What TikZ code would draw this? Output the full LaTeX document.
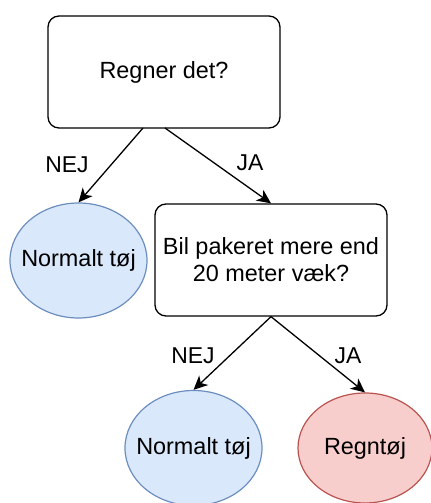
\documentclass[tikz,border=0pt]{standalone}
\usepackage{fontspec}
\setmainfont{Liberation Sans}
\usetikzlibrary{arrows.meta,shapes.geometric}
\definecolor{blueFill}{HTML}{DAE8FC}
\definecolor{blueLine}{HTML}{6C8EBF}
\definecolor{redFill}{HTML}{F8CECC}
\definecolor{redLine}{HTML}{B85450}
\newcommand{\flatbox}[1]{\makebox[0pt]{#1}}
\tikzset{
  question/.style={draw,rounded corners=11bp,line width=1.3bp,minimum width=232bp,minimum height=112bp,align=center,font=\fontsize{23.5}{27}\selectfont},
  answerblue/.style={ellipse,draw=blueLine,fill=blueFill,line width=1.2bp,minimum width=137bp,minimum height=115bp,inner sep=0pt,font=\fontsize{23.5}{27}\selectfont},
  answerred/.style={ellipse,draw=redLine,fill=redFill,line width=1.2bp,minimum width=134bp,minimum height=110bp,inner sep=0pt,font=\fontsize{23.5}{27}\selectfont},
  edgelabel/.style={font=\fontsize{23}{27}\selectfont},
}
\begin{document}
\begin{tikzpicture}[>={Stealth[length=14bp,width=13bp,inset=4bp]},line join=bevel,]
\useasboundingbox (0bp,0bp) rectangle (431bp,503bp);
%%
\node (node_0) at (164bp,431bp) [question] {Regner det?};
  \node (node_1) at (78.5bp,242.5bp) [answerblue] {\flatbox{Normalt tøj}};
  \node (node_2) at (271bp,243bp) [question] {Bil pakeret mere end\\20 meter væk?};
  \node (node_3) at (193.5bp,55bp) [answerblue] {\flatbox{Normalt tøj}};
  \node (node_4) at (365bp,55bp) [answerred] {\flatbox{Regntøj}};
  \draw [black,line width=1.3bp,->] (143bp,375bp) -- (node_1.north);
  \draw [black,line width=1.3bp,->] (165bp,375bp) -- (node_2.north);
  \draw [black,line width=1.3bp,->] (node_2.south) -- (node_3.north);
  \draw [black,line width=1.3bp,->] (node_2.south) -- (node_4.north);
%
  \node (lbl_0) at (67bp,338bp) [edgelabel] {NEJ};
  \node (lbl_1) at (250bp,340.5bp) [edgelabel] {JA};
  \node (lbl_2) at (193bp,147.5bp) [edgelabel] {NEJ};
  \node (lbl_3) at (348bp,147.5bp) [edgelabel] {JA};
%
\end{tikzpicture}
\end{document}
